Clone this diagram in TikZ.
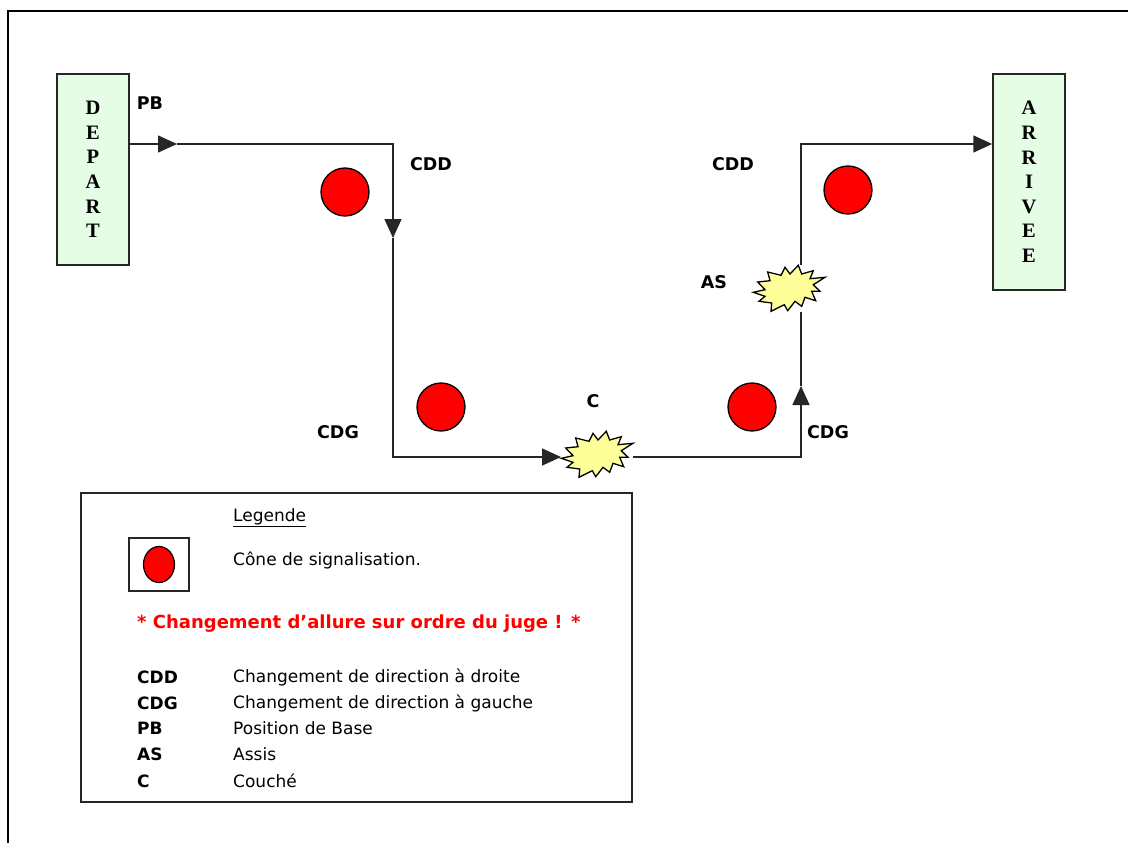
\documentclass[tikz,border=0pt]{standalone}
\usepackage{fontspec}
\setmainfont{DejaVu Sans}
\newfontfamily\boxfont{Liberation Serif}
\usetikzlibrary{arrows.meta,shapes.geometric}
\definecolor{boxgreen}{RGB}{229,252,229}
\definecolor{starfill}{RGB}{255,255,153}
\definecolor{conered}{RGB}{255,0,0}
\tikzset{
  line/.style={line width=1.5pt, draw=black!85},
  tip/.style={-{Triangle[length=19pt,width=17pt]}},
  startbox/.style={draw=black!85, line width=1.5pt, fill=boxgreen, minimum width=72pt, inner sep=0pt, align=center, font=\boxfont\bfseries\fontsize{20.5}{24.6}\selectfont},
  cone/.style={circle, draw=black, line width=1.3pt, fill=conered, minimum size=48pt, inner sep=0pt},
  lbl/.style={font=\bfseries\fontsize{17.5}{20}\selectfont, inner sep=0pt},
  legtxt/.style={font=\fontsize{17}{20}\selectfont, anchor=west, inner sep=0pt},
  legabbr/.style={font=\bfseries\fontsize{17}{20}\selectfont, anchor=west, inner sep=0pt},
  seal/.pic={
    \draw[line width=1.3pt, fill=starfill, line join=miter]
      (-35.7,4.3) -- (-24,1.7) -- (-31.3,-6) -- (-19,-7.3) -- (-21.3,-16) -- (-8,-12.7)
      -- (-4,-20.7) -- (1,-14) -- (9.3,-22.7) -- (12.7,-14) -- (24.3,-17.3) -- (21,-9.3)
      -- (36,-10.7) -- (24.3,-3.3) -- (31,3.3) -- (22.7,3.3) -- (26.7,12.7) -- (16,9.3)
      -- (12.7,18.3) -- (6,13.3) -- (-1.3,22.7) -- (-4.7,16.7) -- (-18,23.3) -- (-17.3,15)
      -- (-30,13.3) -- (-24,8.3) -- cycle;
  }
}
\begin{document}
\begin{tikzpicture}[x=1pt,y=-1pt]
\useasboundingbox (0,0) rectangle (1128,843);
% outer frame
\coordinate (fbl) at (8,843);
\coordinate (ftl) at (8,11);
\coordinate (ftr) at (1128,11);
\draw[line width=1.6pt] (fbl) -- (ftl) -- (ftr);

% start / end boxes
\node[startbox, minimum height=191pt] (depart) at (93,169.5) {D\\E\\P\\A\\R\\T};
\node[startbox, minimum height=216pt] (arrive) at (1029,182) {A\\R\\R\\I\\V\\E\\E};

% cones
\node[cone] (c1) at (345,192) {};
\node[cone] (c2) at (441,407) {};
\node[cone] (c3) at (752,407) {};
\node[cone] (c4) at (848,190) {};

% starbursts
\pic at (597,454) {seal};
\pic at (789,288) {seal};
\coordinate (s1w) at (563,457);
\coordinate (s1e) at (633,457);
\coordinate (s2s) at (801,312);
\coordinate (s2n) at (801,265);

% path
\coordinate (p0) at (depart.east |- 0,144);
\coordinate (a1) at (177,144);
\coordinate (k1) at (393,144);
\coordinate (a2) at (393,238);
\coordinate (k2) at (393,457);
\coordinate (a3) at (561,457);
\coordinate (k3) at (801,457);
\coordinate (a4) at (801,386);
\coordinate (k4) at (801,144);
\coordinate (p5) at (arrive.west |- 0,144);

\draw[line, tip] (p0) -- (a1);
\draw[line, tip] (a1) -- (k1) -- (a2);
\draw[line, tip] (a2) -- (k2) -- (a3);
\draw[line, tip] (s1e) -- (k3) -- (a4);
\draw[line] (a4) -- (s2s);
\draw[line, tip] (s2n) -- (k4) -- (p5);

% labels
\node[lbl] (lpb) at (150,103) {PB};
\node[lbl] (lcdd1) at (431,164) {CDD};
\node[lbl] (lcdg1) at (338,432) {CDG};
\node[lbl] (lc) at (593,401) {C};
\node[lbl] (lcdg2) at (828,432) {CDG};
\node[lbl] (las) at (714,282) {AS};
\node[lbl] (lcdd2) at (733,164) {CDD};

% legend
\node[draw=black!85, line width=1.5pt, minimum width=551pt, minimum height=309pt, inner sep=0pt] (legend) at (356.5,647.5) {};
\node[legtxt] (legt) at (233,518) {\underline{Legende}};
\node[draw=black!85, line width=1.3pt, minimum width=60pt, minimum height=53pt, inner sep=0pt] (legbox) at (159,564.5) {};
\node[ellipse, draw=black, line width=1.2pt, fill=conered, minimum width=31pt, minimum height=36pt, inner sep=0pt] (legcone) at (legbox.center) {};
\node[legtxt] (legcone-t) at (233,560) {Cône de signalisation.};
\node[legabbr, text=conered, font=\bfseries\fontsize{18}{20}\selectfont] (legred) at (137,624) {* Changement d’allure sur ordre du juge ! *};
\node[legabbr] (a-cdd) at (137,677) {CDD};
\node[legabbr] (a-cdg) at (137,703) {CDG};
\node[legabbr] (a-pb) at (137,728) {PB};
\node[legabbr] (a-as) at (137,754) {AS};
\node[legabbr] (a-c) at (137,781) {C};
\node[legtxt] (d-cdd) at (233,677) {Changement de direction à droite};
\node[legtxt] (d-cdg) at (233,703) {Changement de direction à gauche};
\node[legtxt] (d-pb) at (233,728) {Position de Base};
\node[legtxt] (d-as) at (233,754) {Assis};
\node[legtxt] (d-c) at (233,781) {Couché};
\end{tikzpicture}
\end{document}
